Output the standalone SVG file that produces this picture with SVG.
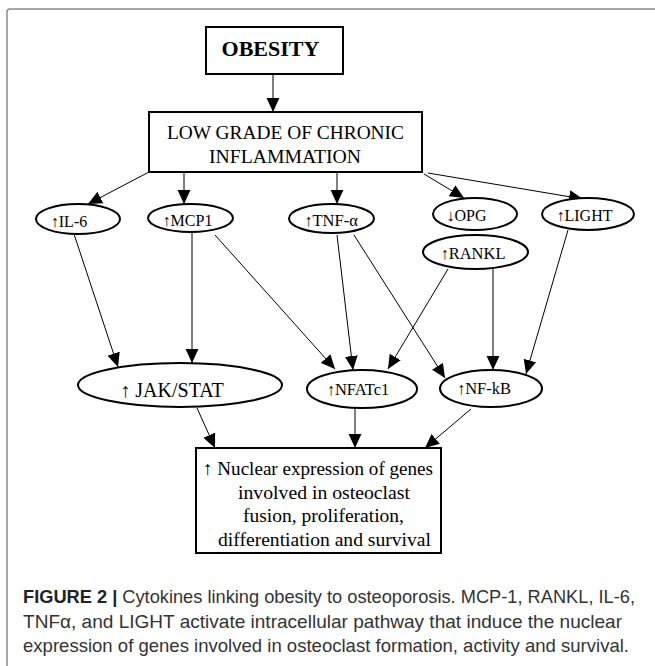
<svg xmlns="http://www.w3.org/2000/svg" width="655" height="666" viewBox="0 0 655 666">
<defs>
<style>
.box{fill:#fff;stroke:#000;stroke-width:2}
.ell{fill:#fff;stroke:#000;stroke-width:2}
.con line{stroke:#000;stroke-width:1;marker-end:url(#ah)}
.t{font-family:"Liberation Serif","Times New Roman",serif;fill:#000;text-anchor:middle}
.cap{font-family:"Liberation Sans",Arial,sans-serif;font-size:18.5px;fill:#333}
</style>
<marker id="ah" markerUnits="userSpaceOnUse" markerWidth="14" markerHeight="14" viewBox="0 0 12 12" refX="12" refY="6" orient="auto">
<path d="M0,0.5 L12,6 L0,11.5 Z" fill="#000"/>
</marker>
</defs>
<rect x="7" y="9" width="720" height="720" rx="3" fill="#fff" stroke="#8a8a8a" stroke-width="1.5"/>

<g id="connectors" class="con">
<line x1="273" y1="74" x2="273" y2="112"/>
<line x1="149" y1="172" x2="88" y2="204"/>
<line x1="184" y1="172" x2="184" y2="204"/>
<line x1="337" y1="172" x2="337" y2="204"/>
<line x1="424" y1="174" x2="464" y2="198"/>
<line x1="428" y1="173" x2="583" y2="199"/>
<line x1="74" y1="234" x2="118" y2="367"/>
<line x1="192" y1="232" x2="192" y2="363"/>
<line x1="215" y1="235" x2="335" y2="369"/>
<line x1="337" y1="235" x2="353" y2="370"/>
<line x1="354" y1="235" x2="445" y2="378"/>
<line x1="448" y1="269" x2="388" y2="369"/>
<line x1="493" y1="269" x2="493" y2="370"/>
<line x1="568" y1="230" x2="526" y2="374"/>
<line x1="197" y1="408" x2="215" y2="448"/>
<line x1="355" y1="408" x2="355" y2="448"/>
<line x1="471" y1="409" x2="425" y2="448"/>
</g>

<g id="obesity">
<rect class="box" x="206" y="27" width="137" height="47"/>
<text class="t" x="270.5" y="56" font-size="22" font-weight="bold">OBESITY</text>
</g>

<g id="inflammation">
<rect class="box" x="149" y="112" width="273" height="60"/>
<text class="t" x="285.5" y="139" font-size="18" textLength="237" lengthAdjust="spacingAndGlyphs">LOW GRADE OF CHRONIC</text>
<text class="t" x="285" y="163" font-size="18" textLength="152" lengthAdjust="spacingAndGlyphs">INFLAMMATION</text>
</g>

<g id="il6">
<ellipse class="ell" cx="78" cy="219" rx="42" ry="15"/>
<text class="t" x="69" y="227" font-size="16">↑IL-6</text>
</g>

<g id="mcp1">
<ellipse class="ell" cx="190.5" cy="218" rx="42.5" ry="14"/>
<text class="t" x="187.5" y="226" font-size="16">↑MCP1</text>
</g>

<g id="tnf">
<ellipse class="ell" cx="331.5" cy="218.5" rx="42.5" ry="14.5"/>
<text class="t" x="331" y="226" font-size="16.5">↑TNF-α</text>
</g>

<g id="opg">
<ellipse class="ell" cx="475" cy="214" rx="42" ry="16"/>
<text class="t" x="466.5" y="221" font-size="16">↓OPG</text>
</g>

<g id="light">
<ellipse class="ell" cx="588" cy="214" rx="46" ry="16"/>
<text class="t" x="584.5" y="221" font-size="16">↑LIGHT</text>
</g>

<g id="rankl">
<ellipse class="ell" cx="475.5" cy="252" rx="52.5" ry="17"/>
<text class="t" x="473" y="259" font-size="16.5">↑RANKL</text>
</g>

<g id="jakstat">
<ellipse class="ell" cx="180" cy="385" rx="102" ry="22"/>
<text class="t" x="172" y="397" font-size="20">↑ JAK/STAT</text>
</g>

<g id="nfatc1">
<ellipse class="ell" cx="362" cy="389" rx="55" ry="19"/>
<text class="t" x="358" y="395" font-size="16.5">↑NFATc1</text>
</g>

<g id="nfkb">
<ellipse class="ell" cx="491" cy="388.5" rx="51" ry="18.5"/>
<text class="t" x="484" y="394" font-size="16.5">↑NF-kB</text>
</g>

<g id="nuclear">
<rect class="box" x="196" y="448" width="245" height="105"/>
<text class="t" x="318" y="475" font-size="19" textLength="230" lengthAdjust="spacingAndGlyphs">↑ Nuclear expression of genes</text>
<text class="t" x="324" y="499" font-size="19" textLength="172" lengthAdjust="spacingAndGlyphs">involved in osteoclast</text>
<text class="t" x="323.5" y="522" font-size="19" textLength="161" lengthAdjust="spacingAndGlyphs">fusion, proliferation,</text>
<text class="t" x="324.5" y="546" font-size="19" textLength="213" lengthAdjust="spacingAndGlyphs">differentiation and survival</text>
</g>

<g id="caption">
<text class="cap" x="23" y="603" textLength="612" lengthAdjust="spacingAndGlyphs"><tspan font-weight="bold" fill="#222">FIGURE 2 |</tspan> Cytokines linking obesity to osteoporosis. MCP-1, RANKL, IL-6,</text>
<text class="cap" x="23" y="628" textLength="599" lengthAdjust="spacingAndGlyphs">TNFα, and LIGHT activate intracellular pathway that induce the nuclear</text>
<text class="cap" x="23" y="652" textLength="606" lengthAdjust="spacingAndGlyphs">expression of genes involved in osteoclast formation, activity and survival.</text>
</g>
</svg>
